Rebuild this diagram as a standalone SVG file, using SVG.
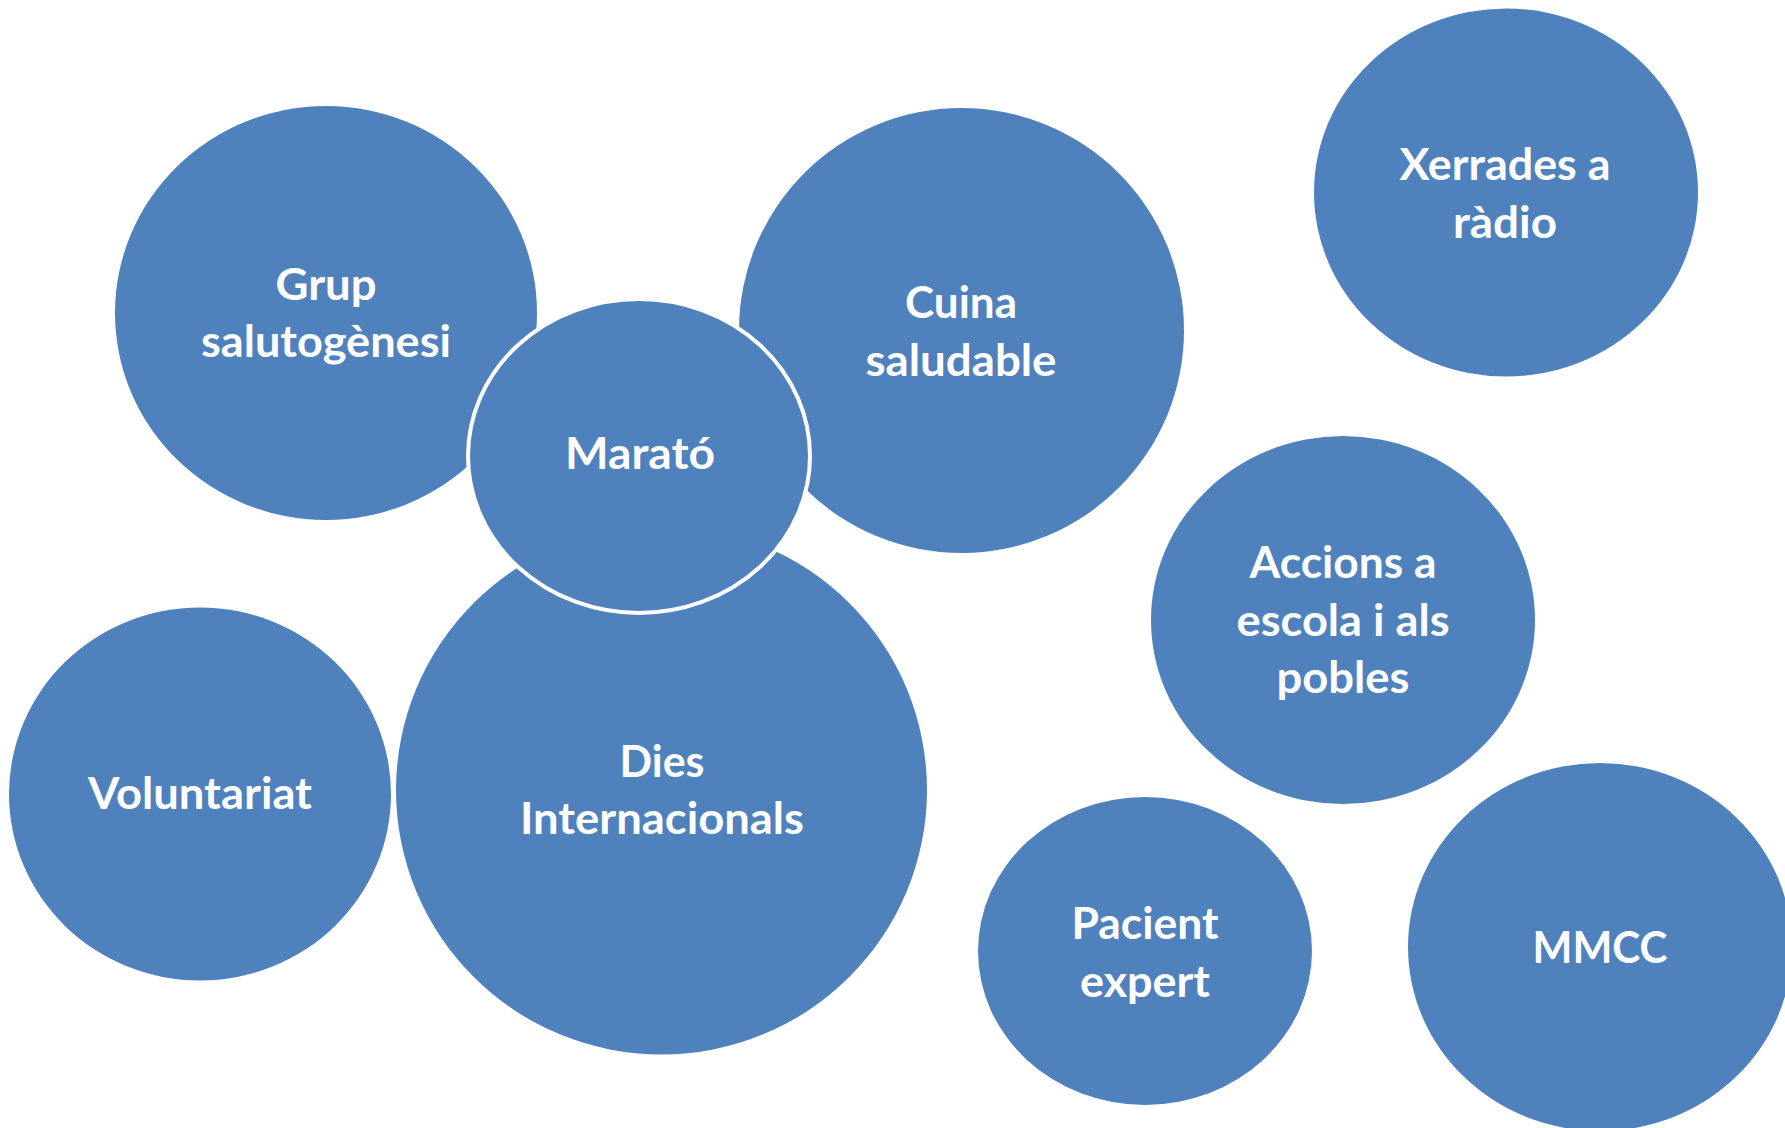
<svg xmlns="http://www.w3.org/2000/svg" width="1785" height="1128" viewBox="0 0 1785 1128">
<style>
.b{fill:#4F81BD;}
.m{fill:#4F81BD;stroke:#FFFFFF;stroke-width:4;}
.t{font-family:Lato,"Open Sans","Liberation Sans",sans-serif;font-weight:bold;font-size:43px;fill:#FFFFFF;text-anchor:middle;}
</style>
<rect width="1785" height="1128" fill="#FFFFFF"/>
<g id="connectors"></g>
<g id="grup">
<ellipse class="b" cx="326" cy="313" rx="211" ry="207"/>
<text class="t" x="326" y="300" textLength="101" lengthAdjust="spacingAndGlyphs">Grup</text>
<text class="t" x="326" y="357" textLength="250" lengthAdjust="spacingAndGlyphs">salutogènesi</text>
</g>
<g id="cuina">
<ellipse class="b" cx="961.5" cy="330.5" rx="222.5" ry="222.5"/>
<text class="t" x="961" y="318" textLength="112" lengthAdjust="spacingAndGlyphs">Cuina</text>
<text class="t" x="961" y="376" textLength="191" lengthAdjust="spacingAndGlyphs">saludable</text>
</g>
<g id="xerrades">
<ellipse class="b" cx="1506" cy="192.5" rx="192" ry="184"/>
<text class="t" x="1505" y="180" textLength="211" lengthAdjust="spacingAndGlyphs">Xerrades a</text>
<text class="t" x="1505" y="238" textLength="104" lengthAdjust="spacingAndGlyphs">ràdio</text>
</g>
<g id="dies">
<ellipse class="b" cx="661.5" cy="790" rx="265.5" ry="264.5"/>
<text class="t" x="662" y="777" textLength="85" lengthAdjust="spacingAndGlyphs">Dies</text>
<text class="t" x="662" y="834" textLength="284" lengthAdjust="spacingAndGlyphs">Internacionals</text>
</g>
<g id="marato">
<ellipse class="m" cx="639" cy="456" rx="171" ry="157"/>
<text class="t" x="640" y="469" textLength="150" lengthAdjust="spacingAndGlyphs">Marató</text>
</g>
<g id="voluntariat">
<ellipse class="b" cx="200" cy="794" rx="191" ry="186.5"/>
<text class="t" x="200" y="809" textLength="224" lengthAdjust="spacingAndGlyphs">Voluntariat</text>
</g>
<g id="accions">
<ellipse class="b" cx="1343" cy="620" rx="192" ry="184"/>
<text class="t" x="1343" y="578" textLength="187" lengthAdjust="spacingAndGlyphs">Accions a</text>
<text class="t" x="1343" y="635.5" textLength="213" lengthAdjust="spacingAndGlyphs">escola i als</text>
<text class="t" x="1343" y="693" textLength="133" lengthAdjust="spacingAndGlyphs">pobles</text>
</g>
<g id="pacient">
<ellipse class="b" cx="1145" cy="951" rx="167" ry="154"/>
<text class="t" x="1145" y="939" textLength="147" lengthAdjust="spacingAndGlyphs">Pacient</text>
<text class="t" x="1145" y="997" textLength="130" lengthAdjust="spacingAndGlyphs">expert</text>
</g>
<g id="mmcc">
<ellipse class="b" cx="1600" cy="947" rx="192" ry="184"/>
<text class="t" x="1600" y="963" textLength="135" lengthAdjust="spacingAndGlyphs">MMCC</text>
</g>
</svg>
